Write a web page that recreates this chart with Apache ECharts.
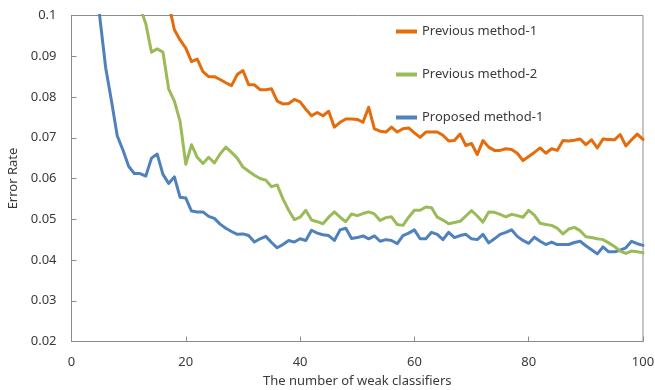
<!DOCTYPE html>
<html>
<head>
<meta charset="utf-8">
<script src="https://cdn.jsdelivr.net/npm/echarts@6/dist/echarts.min.js"></script>
<style>
  html, body { margin: 0; padding: 0; background: #fff; }
  #chart { width: 655px; height: 390px; }
</style>
</head>
<body>
<div id="chart"></div>
<script>
// Number of weak classifiers (x positions of every point)
const rounds = Array.from({ length: 100 }, (_, i) => i + 1);

// Error rate per number of weak classifiers
const previousMethod1 = [
  0.200, 0.190, 0.180, 0.170, 0.162, 0.155, 0.148, 0.142, 0.136, 0.131,
  0.126, 0.122, 0.118, 0.114, 0.110, 0.106, 0.103, 0.0965, 0.094, 0.092,
  0.0887, 0.0893, 0.0862, 0.085, 0.085, 0.0843, 0.0835, 0.0828, 0.0855, 0.0865,
  0.083, 0.083, 0.0818, 0.0818, 0.082, 0.079, 0.0783, 0.0784, 0.0794, 0.0788,
  0.077, 0.0754, 0.0762, 0.0754, 0.0765, 0.0726, 0.0738, 0.0746, 0.0746, 0.0745,
  0.0738, 0.0775, 0.0722, 0.0716, 0.0714, 0.0726, 0.0714, 0.0722, 0.0724, 0.0712,
  0.0701, 0.0714, 0.0714, 0.0714, 0.0706, 0.0692, 0.0693, 0.0709, 0.0681, 0.0686,
  0.0659, 0.0693, 0.0677, 0.0669, 0.0669, 0.0673, 0.0671, 0.0662, 0.0644, 0.0654,
  0.0664, 0.0675, 0.0662, 0.0673, 0.0669, 0.0693, 0.0692, 0.0694, 0.0697, 0.0683,
  0.0695, 0.0675, 0.0697, 0.0696, 0.0695, 0.0708, 0.068, 0.0695, 0.0709, 0.0696
];

const previousMethod2 = [
  0.220, 0.210, 0.200, 0.190, 0.180, 0.170, 0.160, 0.150, 0.138, 0.125,
  0.112, 0.102, 0.098, 0.091, 0.0918, 0.091, 0.082, 0.079, 0.074, 0.0635,
  0.0683, 0.0652, 0.0637, 0.0652, 0.0638, 0.066, 0.0677, 0.0664, 0.065, 0.0628,
  0.0618, 0.0608, 0.06, 0.0596, 0.058, 0.0584, 0.055, 0.0522, 0.0499, 0.0505,
  0.0522, 0.0498, 0.0494, 0.0489, 0.0505, 0.0518, 0.0505, 0.0494, 0.0513, 0.0509,
  0.0514, 0.0518, 0.0513, 0.0497, 0.0504, 0.0506, 0.0487, 0.0485, 0.0505, 0.0522,
  0.0522, 0.053, 0.0528, 0.0505, 0.0498, 0.0489, 0.0492, 0.0495, 0.0508, 0.0521,
  0.0508, 0.0493, 0.0518, 0.0517, 0.0512, 0.0506, 0.0512, 0.0509, 0.0505, 0.0522,
  0.051, 0.049, 0.0487, 0.0485, 0.0478, 0.0464, 0.0476, 0.048, 0.0472, 0.0457,
  0.0455, 0.0452, 0.045, 0.0442, 0.0433, 0.0422, 0.0416, 0.0422, 0.042, 0.0418
];

const proposedMethod1 = [
  0.182, 0.152, 0.130, 0.113, 0.099, 0.087, 0.079, 0.0705, 0.067, 0.063,
  0.0612, 0.0612, 0.0606, 0.065, 0.066, 0.061, 0.0588, 0.0604, 0.0554, 0.0552,
  0.052, 0.0518, 0.0518, 0.0507, 0.0502, 0.0488, 0.0478, 0.047, 0.0463, 0.0464,
  0.046, 0.0444, 0.0452, 0.0458, 0.0443, 0.043, 0.0438, 0.0448, 0.0444, 0.0452,
  0.0448, 0.0473, 0.0466, 0.0462, 0.046, 0.0448, 0.0474, 0.0478, 0.0453, 0.0455,
  0.0459, 0.0452, 0.0459, 0.0446, 0.045, 0.0448, 0.044, 0.046, 0.0466, 0.0474,
  0.0452, 0.0452, 0.0468, 0.0463, 0.045, 0.0468, 0.0455, 0.046, 0.0463, 0.0452,
  0.045, 0.0463, 0.0442, 0.0452, 0.0463, 0.0468, 0.0474, 0.0458, 0.0448, 0.0441,
  0.0456, 0.0446, 0.0438, 0.0444, 0.0438, 0.0438, 0.0438, 0.0443, 0.0446, 0.0435,
  0.0425, 0.0415, 0.0432, 0.042, 0.042, 0.0424, 0.043, 0.0446, 0.044, 0.0436
];

const seriesNames = ['Previous method-1', 'Previous method-2', 'Proposed method-1'];
const seriesColors = ['#E46C0A', '#9BBB59', '#4F81BD'];
const seriesValues = [previousMethod1, previousMethod2, proposedMethod1];

const FONT = 'Noto Sans';
const TEXT = '#3a3a3a';
const AXIS = '#8c8c8c';

const chart = echarts.init(document.getElementById('chart'), null, { renderer: 'canvas' });

chart.setOption({
  animation: false,
  backgroundColor: '#ffffff',
  grid: {
    left: 71.5, right: 12, top: 15.5, bottom: 48.5,
    outerBoundsMode: 'none',
    containLabel: false,
    show: true, borderColor: AXIS, borderWidth: 1, backgroundColor: 'transparent'
  },
  legend: {
    orient: 'vertical',
    left: 391, top: 20,
    itemGap: 30,
    itemWidth: 21, itemHeight: 4,
    icon: 'rect',
    data: seriesNames,
    textStyle: { fontFamily: FONT, fontSize: 13, color: TEXT }
  },
  xAxis: {
    type: 'value',
    min: 0, max: 100, interval: 20,
    name: 'The number of weak classifiers',
    nameLocation: 'middle',
    nameGap: 33,
    nameTextStyle: { fontFamily: FONT, fontSize: 13, color: TEXT },
    axisLine: { show: true, lineStyle: { color: AXIS, width: 1 } },
    axisTick: { show: true, inside: true, length: 5, lineStyle: { color: AXIS } },
    axisLabel: { fontFamily: FONT, fontSize: 13, color: TEXT, margin: 14 },
    splitLine: { show: false }
  },
  yAxis: {
    type: 'value',
    min: 0.02, max: 0.1, interval: 0.01,
    name: 'Error Rate',
    nameLocation: 'middle',
    nameGap: 51,
    nameTextStyle: { fontFamily: FONT, fontSize: 13, color: TEXT },
    axisLine: { show: true, lineStyle: { color: AXIS, width: 1 } },
    axisTick: { show: true, inside: true, length: 5, lineStyle: { color: AXIS } },
    axisLabel: {
      fontFamily: FONT, fontSize: 13, color: TEXT, margin: 15,
      formatter: v => String(Math.round(v * 100) / 100)
    },
    splitLine: { show: false }
  },
  series: seriesNames.map((name, k) => ({
    name,
    type: 'line',
    data: rounds.map((r, i) => [r, seriesValues[k][i]]),
    showSymbol: false,
    symbol: 'none',
    clip: true,
    color: seriesColors[k],
    itemStyle: { color: seriesColors[k] },
    lineStyle: { color: seriesColors[k], width: 3, join: 'round', cap: 'round' },
    z: 3 - k
  }))
});
</script>
</body>
</html>
